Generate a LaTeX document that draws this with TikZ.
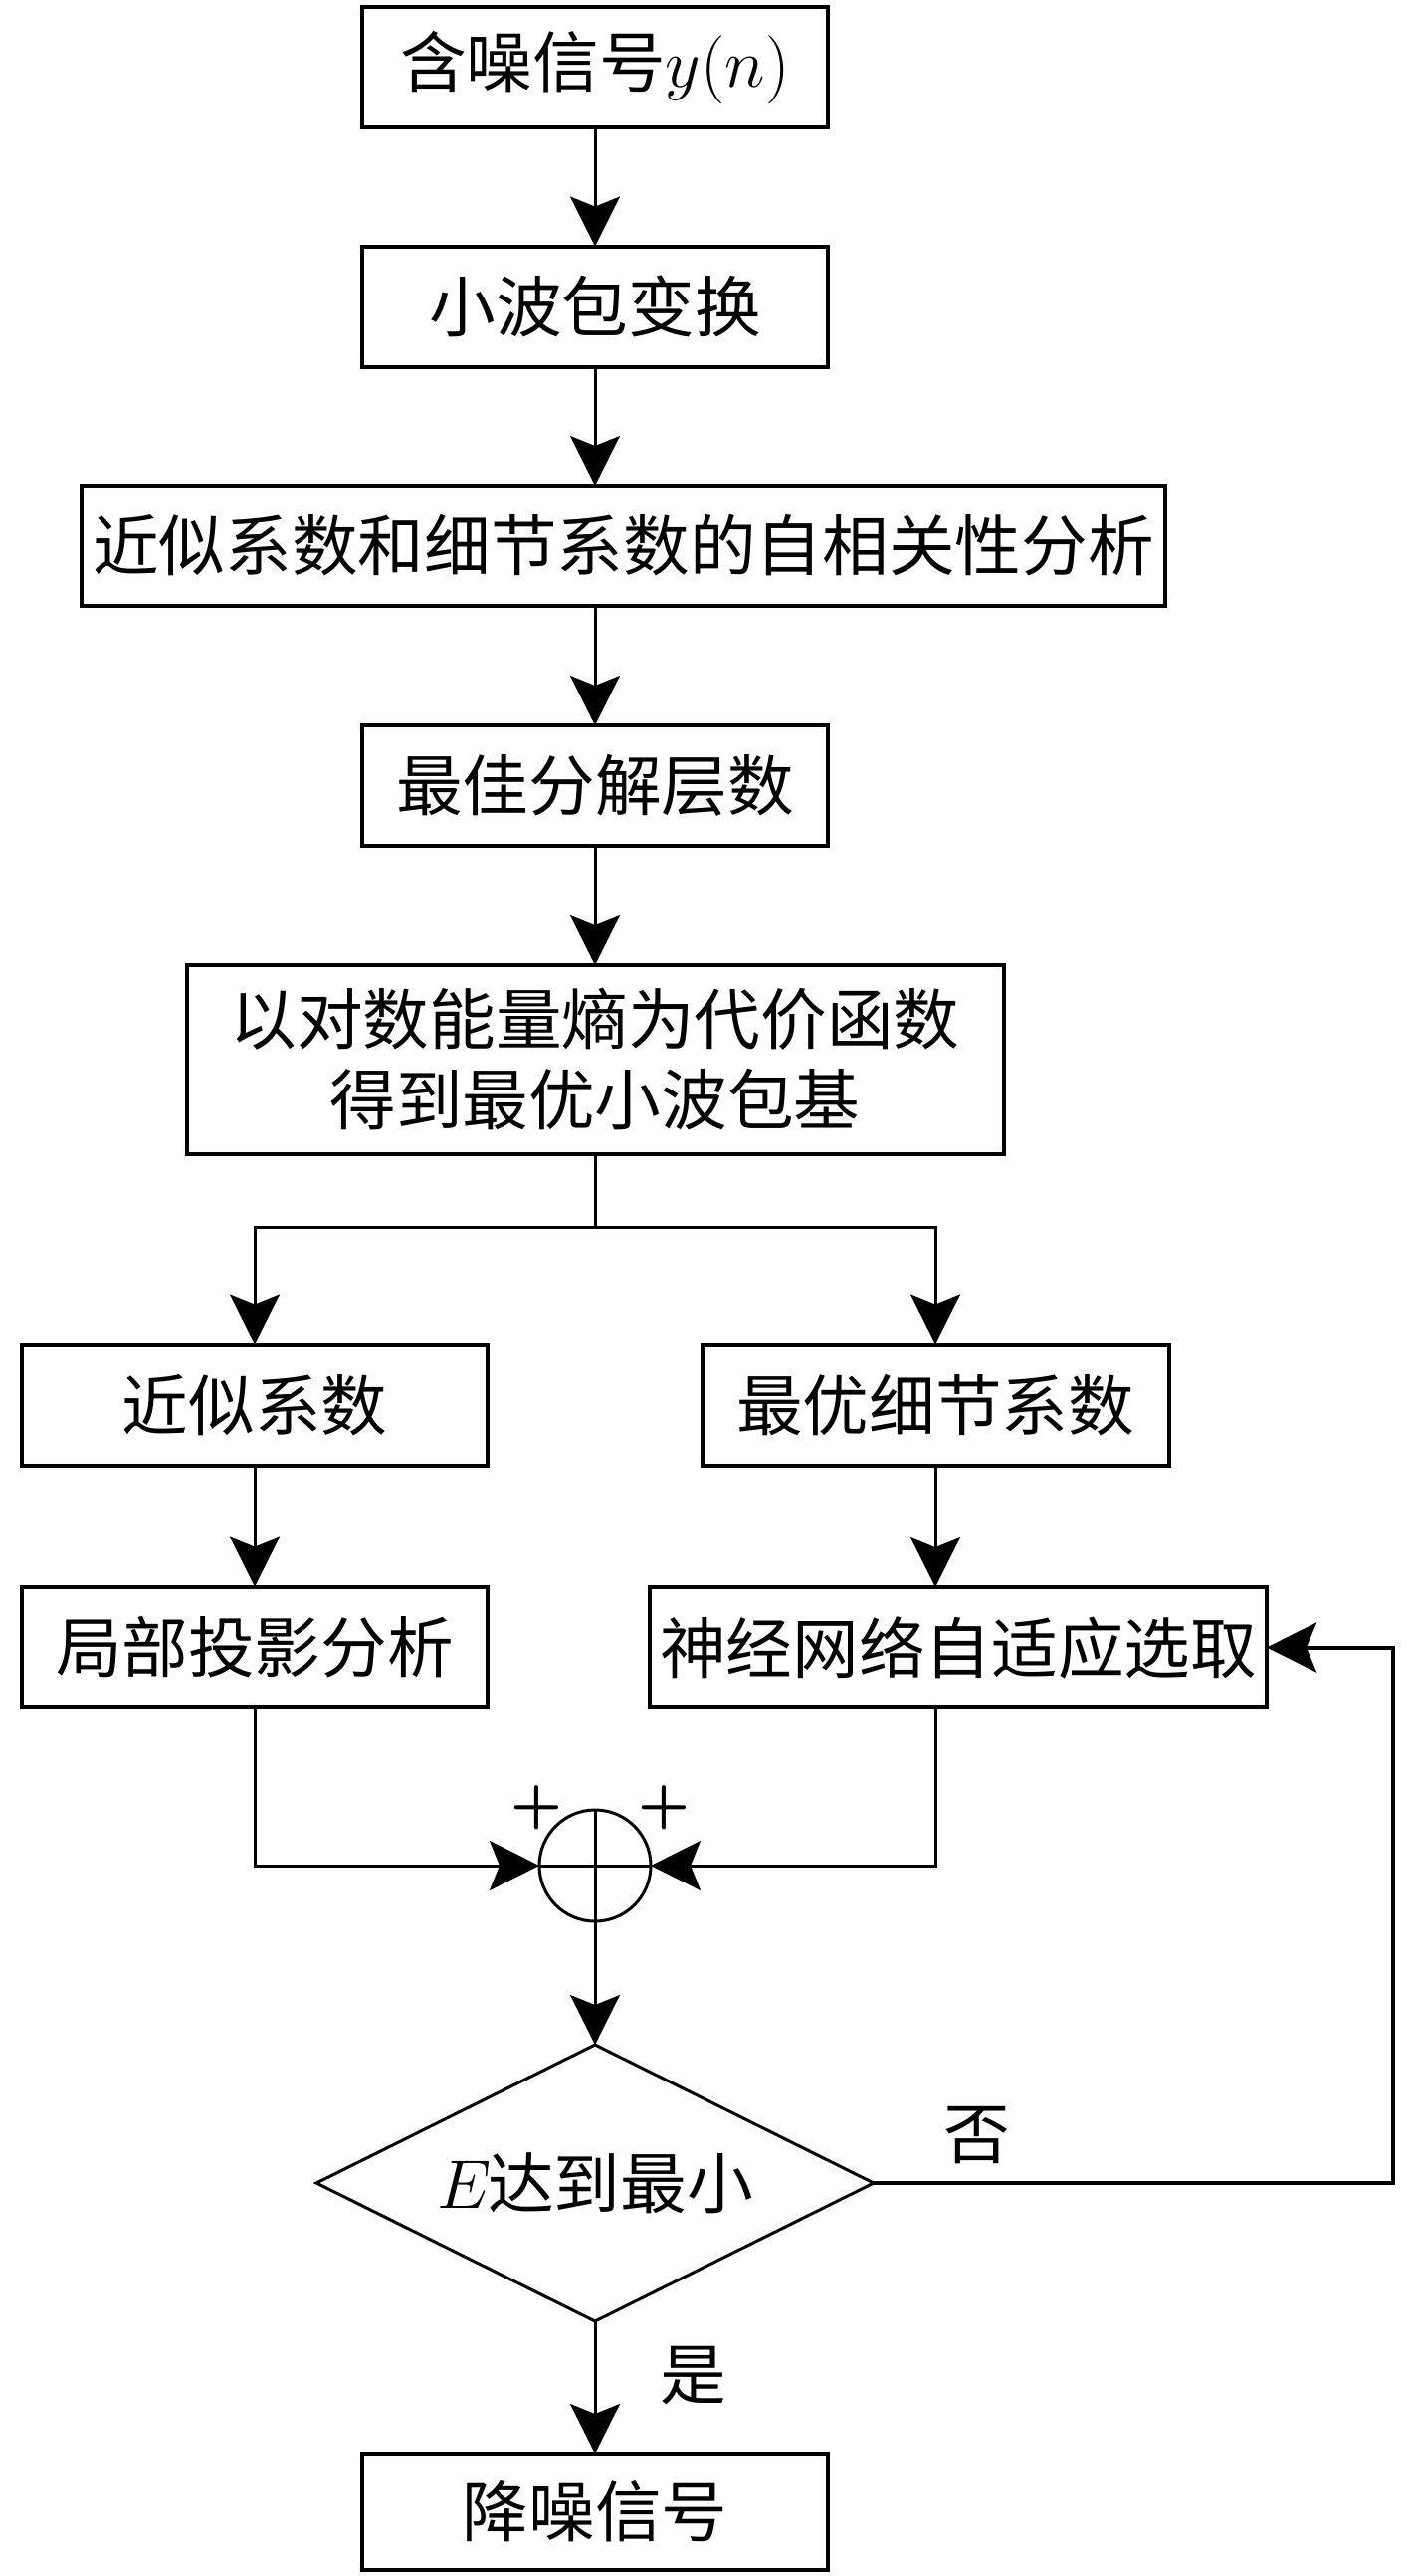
\documentclass[tikz,border=0pt]{standalone}
\usepackage{fontspec}
\usetikzlibrary{arrows.meta,shapes.geometric}
\IfFontExistsTF{FandolSong-Regular.otf}{\newfontfamily\cjk{FandolSong-Regular.otf}}{\newfontfamily\cjk{Noto Sans CJK SC}}
\begin{document}
\begin{tikzpicture}[x=0.3pt,y=-0.3pt,
  box/.style={draw, rectangle, line width=1.2pt, inner sep=0pt, outer sep=0pt,
    font=\cjk\fontsize{20}{24.3}\selectfont, align=center, minimum height=36.3pt},
  arr/.style={line width=0.9pt, -{Stealth[length=15pt,width=15pt,inset=3pt]}},
  conn/.style={line width=0.9pt},
  lbl/.style={font=\cjk\fontsize{20}{24}\selectfont, inner sep=0pt},
  plus/.style={font=\fontsize{20}{20}\fontseries{b}\selectfont, inner sep=0pt}
]
\useasboundingbox (0,0) rectangle (1417,2589);

\node[box, minimum width=140.4pt] (b1) at (598,67.5) {含噪信号$y(n)$};
\node[box, minimum width=140.4pt] (b2) at (598,308) {小波包变换};
\node[box, minimum width=326.7pt] (b3) at (626.5,548.5) {近似系数和细节系数的自相关性分析};
\node[box, minimum width=140.4pt] (b4) at (598,789.5) {最佳分解层数};
\node[box, minimum width=246.3pt, minimum height=57pt] (b5) at (598,1065) {以对数能量熵为代价函数\\得到最优小波包基};
\node[box, minimum width=140.4pt] (b6) at (256,1412) {近似系数};
\node[box, minimum width=140.7pt] (b7) at (940,1412) {最优细节系数};
\node[box, minimum width=140.4pt] (b8) at (256,1655) {局部投影分析};
\node[box, minimum width=186pt] (b9) at (963,1655.5) {神经网络自适应选取};
\node[draw, circle, line width=0.9pt, minimum size=33.6pt, inner sep=0pt, outer sep=0pt] (sum) at (598,1875) {};
\node[draw, diamond, aspect=2, line width=0.9pt, minimum width=168pt, minimum height=83.4pt,
  inner sep=0pt, outer sep=0pt, font=\cjk\fontsize{20}{24}\selectfont] (dec) at (598,2194) {$E$\kern-1pt 达到最小};
\node[box, minimum width=140.4pt, minimum height=35.1pt] (b10) at (598,2524.5) {降噪信号};

\node[plus] (pl) at (539,1817) {+};
\node[plus] (pr) at (667,1817) {+};
\node[lbl] (no) at (982,2146) {否};
\node[lbl] (yes) at (697,2388) {是};

\coordinate (split) at (598,1233);
\coordinate (fb) at (1400,2194);

\draw[conn] (sum.north) -- (sum.south);
\draw[conn] (sum.west) -- (sum.east);

\draw[arr] (b1.south) -- (b2.north);
\draw[arr] (b2.south) -- (b2.south |- b3.north);
\draw[arr] (b3.south -| b4.north) -- (b4.north);
\draw[arr] (b4.south) -- (b5.north);
\draw[conn] (b5.south) -- (split);
\draw[arr] (split) -| (b6.north);
\draw[arr] (split) -| (b7.north);
\draw[arr] (b6.south) -- (b8.north);
\draw[arr] (b7.south) -- (b7.south |- b9.north);
\draw[arr] (b8.south) |- (sum.west);
\draw[arr] (b7.south |- b9.south) |- (sum.east);
\draw[arr] (sum.south) -- (dec.north);
\draw[arr] (dec.south) -- (b10.north);
\draw[arr, line width=1.2pt] (dec.east) -- (fb) |- (b9.east);
\end{tikzpicture}
\end{document}
